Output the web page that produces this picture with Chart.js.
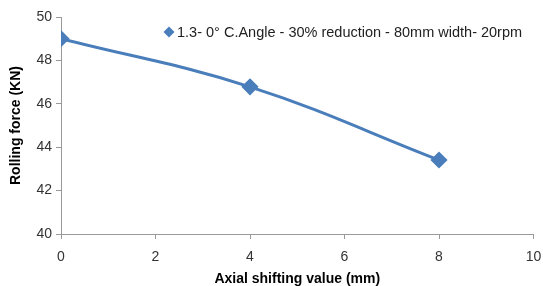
<!DOCTYPE html>
<html><head><meta charset="utf-8">
<script src="https://cdn.jsdelivr.net/npm/chart.js@4"></script>
<style>html,body{margin:0;padding:0;background:#fff}#w{width:543px;height:286px}</style>
</head><body><div id="w"><canvas id="c"></canvas></div>
<script>
const seriesName = "1.3- 0\u00b0 C.Angle - 30% reduction - 80mm width- 20rpm";
const xValues = [0, 4, 8];
const yValues = [49.0, 46.78, 43.41];
const xTicks = [0, 2, 4, 6, 8, 10];
const yTicks = [40, 42, 44, 46, 48, 50];
const xTitle = "Axial shifting value (mm)";
const yTitle = "Rolling force (KN)";

const blue = '#4a7ebb';
const font = "Liberation Sans";

const legendPlugin = {
  id: 'floatLegend',
  afterDraw(chart) {
    const ctx = chart.ctx;
    const ds = chart.data.datasets[0];
    const mx = 169, my = 32, r = 5.5;
    ctx.save();
    ctx.fillStyle = ds.backgroundColor;
    ctx.beginPath();
    ctx.moveTo(mx, my - r); ctx.lineTo(mx + r, my); ctx.lineTo(mx, my + r); ctx.lineTo(mx - r, my);
    ctx.closePath(); ctx.fill();
    ctx.fillStyle = '#222';
    ctx.font = '14.5px "' + font + '"';
    ctx.textBaseline = 'middle';
    ctx.fillText(ds.label, 177, my + 1);
    ctx.restore();
  }
};

new Chart(document.getElementById('c'), {
  type: 'line',
  data: { datasets: [{
    label: seriesName,
    data: xValues.map((x, i) => ({x, y: yValues[i]})),
    borderColor: blue, backgroundColor: blue, borderWidth: 3,
    tension: 0.4, pointStyle: 'rectRot', pointRadius: 6.5, pointHoverRadius: 6.5
  }]},
  plugins: [legendPlugin],
  options: {
    responsive: true, maintainAspectRatio: false, animation: false,
    layout: { padding: { top: 17, right: 0, left: 8, bottom: 0 } },
    plugins: { tooltip: { enabled: false }, legend: { display: false } },
    scales: {
      x: { type: 'linear', min: 0, max: 10,
        afterBuildTicks: a => { a.ticks = xTicks.map(v => ({value: v})); },
        afterFit: a => { a.height = 52; a.paddingRight = 8; },
        grid: { drawOnChartArea: false, color: '#999', tickLength: 5 },
        border: { color: '#999' },
        ticks: { color: '#333', font: { family: font, size: 14 }, padding: 10 },
        title: { display: true, text: xTitle, color: '#000', font: { family: font, size: 14, weight: 'bold', lineHeight: 1 }, padding: { top: 7, bottom: 0 } } },
      y: { min: 40, max: 50,
        afterBuildTicks: a => { a.ticks = yTicks.map(v => ({value: v})); },
        afterFit: a => { a.width = 53; },
        grid: { drawOnChartArea: false, color: '#999', tickLength: 5 },
        border: { color: '#999' },
        ticks: { color: '#333', font: { family: font, size: 14 }, padding: 4 },
        title: { display: true, text: yTitle, color: '#000', font: { family: font, size: 14, weight: 'bold' }, padding: { top: 0, bottom: 0 } } }
    }
  }
});
</script></body></html>
